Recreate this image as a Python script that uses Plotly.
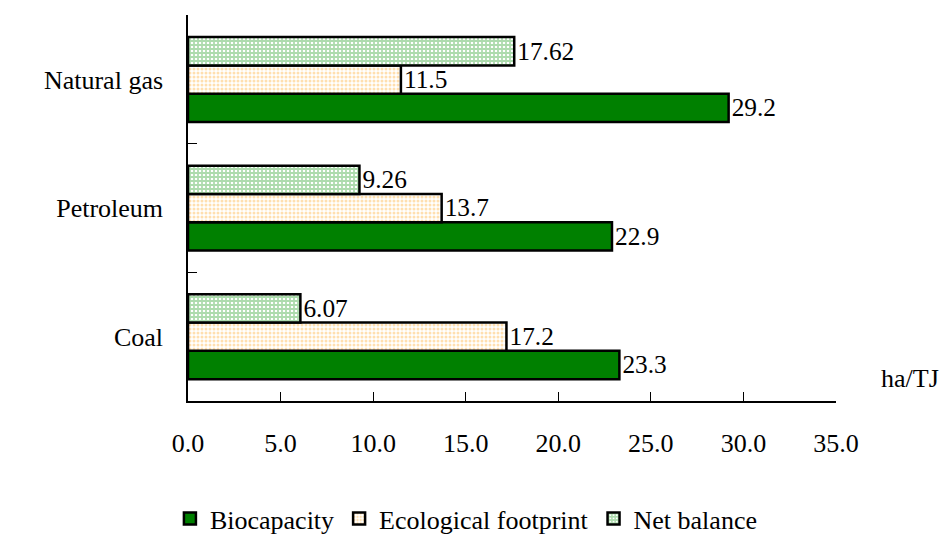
import plotly.graph_objects as go

# Energy types and per-type ecological values (ha/TJ)
categories = ["Coal", "Petroleum", "Natural gas"]
biocapacity = [23.3, 22.9, 29.2]
eco_footprint = [17.2, 13.7, 11.5]
net_balance = [6.07, 9.26, 17.62]
x_ticks = [0, 5, 10, 15, 20, 25, 30, 35]
x_tick_text = ["0.0", "5.0", "10.0", "15.0", "20.0", "25.0", "30.0", "35.0"]

FONT = "Liberation Serif"
FS = 26
fig = go.Figure()

common = dict(orientation="h", textposition="outside", texttemplate="%{x}",
              textfont=dict(family=FONT, size=FS, color="black"), cliponaxis=False)

fig.add_trace(go.Bar(
    name="Biocapacity", y=categories, x=biocapacity,
    marker=dict(color="#008000", line=dict(color="black", width=2.5)),
    **common))
fig.add_trace(go.Bar(
    name="Ecological footprint", y=categories, x=eco_footprint,
    marker=dict(color="white", line=dict(color="black", width=2.5),
                pattern=dict(shape=".", fgcolor="#ffc060", bgcolor="white",
                             size=4, solidity=0.45, fillmode="overlay")),
    **common))
fig.add_trace(go.Bar(
    name="Net balance", y=categories, x=net_balance,
    marker=dict(color="white", line=dict(color="black", width=2.5),
                pattern=dict(shape="+", fgcolor="#5cb85c", bgcolor="white",
                             size=4, solidity=0.7, fillmode="overlay")),
    **common))

fig.update_layout(
    width=948, height=542,
    margin=dict(l=188, r=112, t=15, b=141, autoexpand=False),
    paper_bgcolor="white", plot_bgcolor="white",
    barmode="group", bargap=0.34, bargroupgap=0,
    font=dict(family=FONT, size=FS, color="black"),
    showlegend=True,
    legend=dict(orientation="h", xref="container", yref="container",
                x=0.492, xanchor="center", y=0.0, yanchor="bottom",
                font=dict(family=FONT, size=FS, color="black"),
                itemwidth=30, tracegroupgap=0),
    xaxis=dict(range=[0, 35], tickvals=x_ticks, ticktext=x_tick_text,
               ticks="inside", ticklen=9, tickcolor="black", tickwidth=1,
               showline=True, linecolor="black", linewidth=1.5,
               showgrid=False, zeroline=False, ticklabelstandoff=18,
               tickfont=dict(family=FONT, size=FS, color="black")),
    yaxis=dict(type="category", categoryorder="array", categoryarray=categories,
               range=[-0.5, 2.502], tickson="boundaries",
               ticks="inside", ticklen=9, tickcolor="black", tickwidth=1,
               showline=True, linecolor="black", linewidth=1.5,
               showgrid=False, zeroline=False, ticklabelstandoff=18,
               tickfont=dict(family=FONT, size=FS, color="black")),
    annotations=[dict(text="ha/TJ", xref="paper", yref="paper", x=1, y=0,
                      xanchor="left", yanchor="middle", xshift=43, yshift=23,
                      showarrow=False,
                      font=dict(family=FONT, size=FS, color="black"))],
)

fig.write_html("out.html")
